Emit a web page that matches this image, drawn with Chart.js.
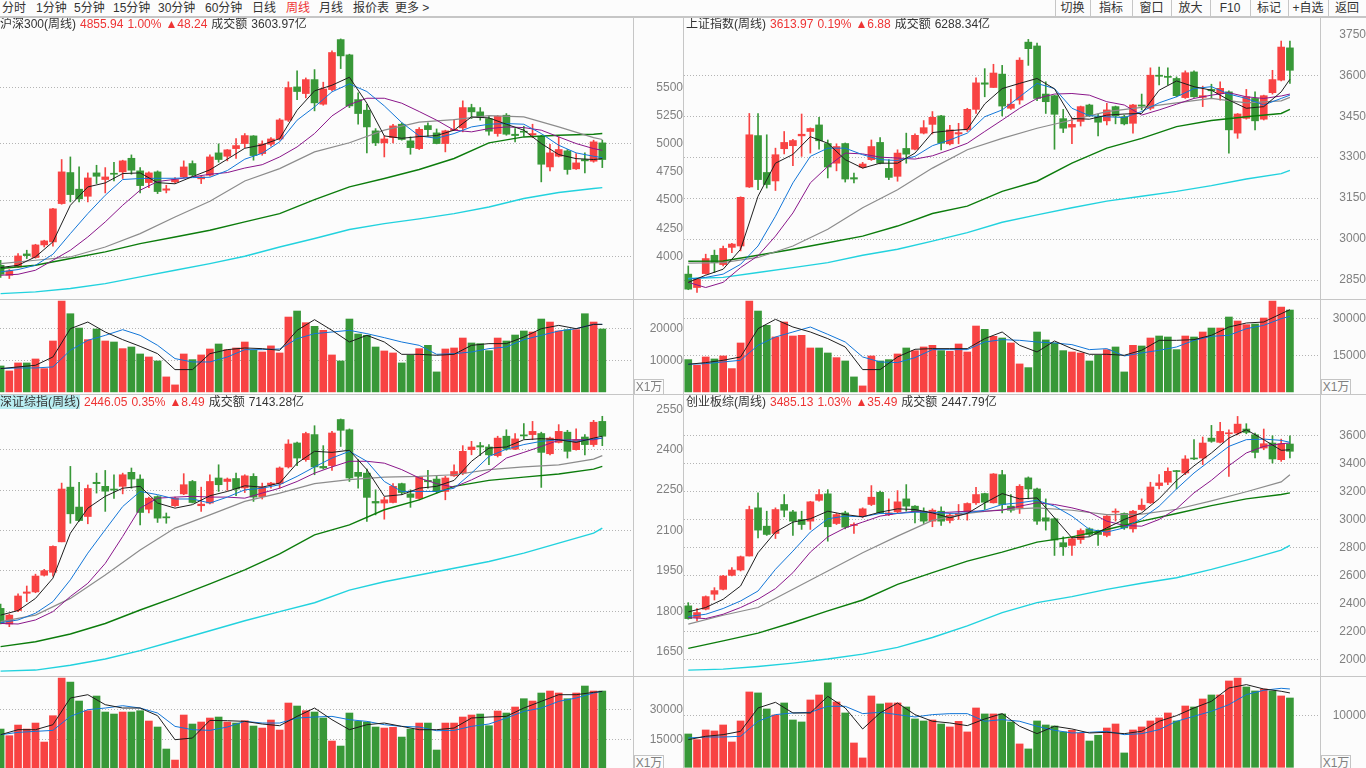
<!DOCTYPE html>
<html>
<head>
<meta charset="utf-8">
<title>周线</title>
<script src="https://cdn.jsdelivr.net/npm/chart.js@4.4.1/dist/chart.umd.min.js"></script>
<style>
  html, body { margin: 0; padding: 0; }
  body { width: 1366px; height: 768px; overflow: hidden; position: relative; background: #fcfcfc;
         font-family: "Liberation Sans", "Noto Sans CJK SC", sans-serif; font-size: 12px; color: #333; }
  canvas { position: absolute; display: block; }
  .ln { position: absolute; background: #c6c6c6; z-index: 3; }
  .tb { position: absolute; top: 0; height: 16px; line-height: 16px; white-space: nowrap; }
  .btn { position: absolute; top: 0; height: 16px; line-height: 16px; text-align: center; white-space: nowrap; }
  .hdr { position: absolute; height: 15px; line-height: 15px; white-space: nowrap; z-index: 2; color: #333; }
  .hdr span { margin-right: 4px; }
  .r { color: #ee3434; }
  .sel { background: #b9eef2; }
  .unit { position: absolute; width: 28px; height: 14px; line-height: 14px; border: 1px solid #c4c4c4;
          color: #808080; text-align: center; font-size: 12px; background: #fcfcfc; z-index: 2; }
</style>
</head>
<body>

<!-- 顶部工具栏 -->
<div class="tb" style="left:2px">分时</div>
<div class="tb" style="left:36px">1分钟</div>
<div class="tb" style="left:74px">5分钟</div>
<div class="tb" style="left:113px">15分钟</div>
<div class="tb" style="left:158px">30分钟</div>
<div class="tb" style="left:205px">60分钟</div>
<div class="tb" style="left:252px">日线</div>
<div class="tb r" style="left:286px">周线</div>
<div class="tb" style="left:319px">月线</div>
<div class="tb" style="left:353px">报价表</div>
<div class="tb" style="left:395px">更多 &gt;</div>

<div class="btn" style="left:1055px;width:35px">切换</div>
<div class="btn" style="left:1090px;width:42px">指标</div>
<div class="btn" style="left:1132px;width:39px">窗口</div>
<div class="btn" style="left:1171px;width:39px">放大</div>
<div class="btn" style="left:1210px;width:40px">F10</div>
<div class="btn" style="left:1250px;width:38px">标记</div>
<div class="btn" style="left:1288px;width:40px">+自选</div>
<div class="btn" style="left:1328px;width:38px">返回</div>

<canvas id="c-hs300-p" width="683" height="282" style="left:0;top:17px"></canvas>
<canvas id="c-hs300-v" width="683" height="93" style="left:0;top:300px"></canvas>
<canvas id="c-sh-p" width="682" height="282" style="left:684px;top:17px"></canvas>
<canvas id="c-sh-v" width="682" height="93" style="left:684px;top:300px"></canvas>
<canvas id="c-szzz-p" width="683" height="281" style="left:0;top:395px"></canvas>
<canvas id="c-szzz-v" width="683" height="91" style="left:0;top:677px"></canvas>
<canvas id="c-cybz-p" width="682" height="281" style="left:684px;top:395px"></canvas>
<canvas id="c-cybz-v" width="682" height="91" style="left:684px;top:677px"></canvas>

<!-- 分隔线 -->
<div class="ln" style="left:0;top:16px;width:1366px;height:2px"></div>
<div class="ln" style="left:633px;top:17px;width:1px;height:751px"></div>
<div class="ln" style="left:683px;top:17px;width:1px;height:751px"></div>
<div class="ln" style="left:1320px;top:17px;width:1px;height:751px"></div>
<div class="ln" style="left:0;top:299px;width:1366px;height:1px"></div>
<div class="ln" style="left:0;top:394px;width:1366px;height:1px"></div>
<div class="ln" style="left:0;top:676px;width:1366px;height:1px"></div>
<div class="ln" style="left:1055px;top:0;width:1px;height:16px"></div>
<div class="ln" style="left:1090px;top:0;width:1px;height:16px"></div>
<div class="ln" style="left:1132px;top:0;width:1px;height:16px"></div>
<div class="ln" style="left:1171px;top:0;width:1px;height:16px"></div>
<div class="ln" style="left:1210px;top:0;width:1px;height:16px"></div>
<div class="ln" style="left:1250px;top:0;width:1px;height:16px"></div>
<div class="ln" style="left:1288px;top:0;width:1px;height:16px"></div>
<div class="ln" style="left:1328px;top:0;width:1px;height:16px"></div>

<!-- 标题行 -->
<div class="hdr" style="left:0;top:17px"><span>沪深300(周线)</span><span class="r">4855.94</span><span class="r">1.00%</span><span class="r">▲48.24</span><span>成交额</span><span>3603.97亿</span></div>
<div class="hdr" style="left:686px;top:17px"><span>上证指数(周线)</span><span class="r">3613.97</span><span class="r">0.19%</span><span class="r">▲6.88</span><span>成交额</span><span>6288.34亿</span></div>
<div class="hdr" style="left:0;top:395px"><span class="sel">深证综指(周线)</span><span class="r">2446.05</span><span class="r">0.35%</span><span class="r">▲8.49</span><span>成交额</span><span>7143.28亿</span></div>
<div class="hdr" style="left:686px;top:395px"><span>创业板综(周线)</span><span class="r">3485.13</span><span class="r">1.03%</span><span class="r">▲35.49</span><span>成交额</span><span>2447.79亿</span></div>

<div class="unit" style="left:634px;top:379px">X1万</div>
<div class="unit" style="left:1321px;top:379px">X1万</div>
<div class="unit" style="left:634px;top:755px">X1万</div>
<div class="unit" style="left:1321px;top:755px">X1万</div>

<script>
// 均线取样位置（K线序号）
const fastIdx = [0, 2, 4, 6, 8, 10, 12, 14, 16, 18, 20, 22, 24, 26, 28, 30, 32, 34, 36, 38, 40, 42, 44, 46, 48, 50, 52, 54, 56, 58, 60, 62, 64, 66, 68, 69];
const slowIdx = [0, 4, 8, 12, 16, 20, 24, 28, 32, 36, 40, 44, 48, 52, 56, 60, 64, 68, 69];

// ---- 沪深300 ----
const hs300Open = [3920, 3831, 3905, 4021, 3989, 4101, 4128, 4469, 4745, 4597, 4534, 4742, 4683, 4739, 4751, 4872, 4760, 4656, 4751, 4588, 4662, 4706, 4825, 4689, 4721, 4920, 4890, 4958, 5003, 5071, 4914, 4997, 5044, 5211, 5507, 5448, 5572, 5353, 5483, 5928, 5792, 5394, 5300, 5116, 5009, 5056, 5175, 5027, 4958, 5163, 5098, 5003, 5119, 5142, 5323, 5285, 5225, 5092, 5255, 5086, 5113, 5080, 5068, 4795, 4890, 4938, 4778, 4861, 4846, 5009];
const hs300High = [3965, 3882, 4024, 4054, 4107, 4143, 4427, 4861, 4884, 4795, 4742, 4810, 4789, 4837, 4855, 4902, 4789, 4751, 4760, 4632, 4700, 4849, 4849, 4718, 4902, 5000, 4950, 5047, 5092, 5074, 5027, 5056, 5225, 5552, 5650, 5587, 5661, 5549, 5827, 5934, 5798, 5454, 5353, 5136, 5071, 5175, 5187, 5062, 5145, 5187, 5133, 5122, 5216, 5383, 5353, 5323, 5246, 5252, 5270, 5136, 5157, 5175, 5077, 4997, 5062, 4950, 4914, 4920, 5033, 5033];
const hs300Low = [3811, 3802, 3900, 3980, 3983, 4083, 4089, 4463, 4484, 4484, 4484, 4647, 4564, 4671, 4692, 4730, 4564, 4611, 4558, 4564, 4653, 4700, 4712, 4647, 4712, 4837, 4849, 4870, 4967, 4855, 4899, 4979, 5033, 5199, 5394, 5409, 5294, 5344, 5472, 5670, 5323, 5175, 4920, 4985, 4884, 5009, 5033, 4908, 4950, 5068, 5000, 4929, 5119, 5107, 5225, 5211, 5077, 5068, 5077, 5018, 5068, 5056, 4662, 4760, 4884, 4730, 4772, 4742, 4837, 4789];
const hs300Close = [3840, 3870, 4003, 4006, 4101, 4137, 4422, 4751, 4549, 4511, 4697, 4712, 4706, 4730, 4849, 4766, 4629, 4742, 4576, 4600, 4683, 4795, 4724, 4706, 4884, 4861, 4947, 4985, 5074, 4896, 5000, 5044, 5213, 5501, 5466, 5572, 5365, 5489, 5813, 5783, 5338, 5270, 5151, 5009, 5044, 5160, 5039, 4967, 5130, 5127, 5003, 5116, 5130, 5323, 5285, 5234, 5113, 5246, 5086, 5074, 5104, 5092, 4819, 4920, 4950, 4772, 4831, 4849, 5018, 4861];
const hs300Vol = [8210, 6630, 9160, 9160, 10420, 7370, 16110, 28740, 24740, 20210, 16530, 19900, 16110, 15790, 13690, 14210, 12000, 11050, 9790, 4740, 2210, 12000, 10210, 11690, 13580, 15160, 13370, 13900, 15790, 13160, 12630, 14560, 12320, 23690, 25590, 21900, 20740, 19480, 11690, 9790, 23060, 18320, 17900, 14210, 12950, 12320, 9160, 11580, 13690, 14740, 6320, 13580, 13900, 17050, 15480, 15270, 13050, 17050, 16110, 18000, 19270, 18950, 23060, 22110, 19270, 19690, 19690, 24740, 22110, 19900];
const hs300Ma5 = [3900, 3920, 3995, 4128, 4454, 4617, 4653, 4736, 4742, 4655, 4645, 4709, 4769, 4864, 4961, 4991, 5047, 5300, 5472, 5522, 5593, 5362, 5071, 5050, 5065, 5074, 5122, 5240, 5231, 5175, 5122, 5003, 4905, 4869, 4861, 4869];
const hs300Ma10 = [3861, 3882, 3920, 4018, 4202, 4380, 4543, 4683, 4692, 4694, 4694, 4700, 4703, 4763, 4864, 4917, 5018, 5211, 5329, 5463, 5534, 5466, 5338, 5190, 5071, 5050, 5092, 5151, 5175, 5181, 5175, 5092, 4988, 4920, 4890, 4878];
const hs300Ma20 = [3831, 3840, 3876, 3965, 4054, 4172, 4306, 4454, 4588, 4665, 4685, 4706, 4730, 4745, 4785, 4815, 4884, 4973, 5092, 5249, 5350, 5406, 5406, 5362, 5288, 5211, 5122, 5107, 5136, 5151, 5145, 5122, 5062, 5003, 4958, 4943];
const hs300Ma30 = [3935, 3965, 3994, 4083, 4202, 4350, 4490, 4670, 4780, 4929, 5010, 5122, 5193, 5216, 5252, 5240, 5151, 5056, 5039];
const hs300Ma60 = [3891, 3920, 3980, 4039, 4113, 4172, 4232, 4306, 4380, 4505, 4617, 4692, 4772, 4870, 5009, 5062, 5077, 5086, 5092];
const hs300Ma120 = [3668, 3683, 3713, 3757, 3817, 3876, 3935, 4000, 4083, 4158, 4238, 4291, 4333, 4380, 4439, 4514, 4567, 4603, 4611];
const hs300VolMa5 = [7370, 7900, 8420, 11050, 20000, 22110, 18950, 16530, 14420, 12100, 7050, 7050, 12100, 13370, 13900, 13690, 13160, 19480, 22850, 19480, 15790, 17900, 15790, 11890, 11890, 11580, 11890, 14740, 15270, 15270, 17370, 20000, 21050, 20000, 21370, 21370];
const hs300VolMa10 = [7370, 7580, 7580, 7900, 13160, 16320, 17900, 19690, 17900, 14740, 10530, 9470, 9470, 11050, 13370, 13370, 13580, 16840, 18430, 18950, 19480, 18430, 17160, 15790, 14740, 11890, 12100, 12630, 13690, 14210, 16530, 17900, 19270, 20000, 21370, 21370];
const hs300PriceTicks = [5500, 5250, 5000, 4750, 4500, 4250, 4000];
const hs300PriceGrid = [5500, 5000, 4500, 4000];
const hs300VolTicks = [20000, 10000];

// ---- 上证指数 ----
const shOpen = [2872, 2823, 2874, 2941, 2907, 2970, 2975, 3191, 3379, 3244, 3213, 3331, 3342, 3378, 3394, 3418, 3350, 3278, 3350, 3225, 3263, 3291, 3354, 3259, 3230, 3332, 3329, 3388, 3420, 3451, 3349, 3385, 3400, 3475, 3572, 3555, 3604, 3479, 3509, 3721, 3707, 3531, 3525, 3441, 3410, 3431, 3491, 3448, 3433, 3485, 3448, 3424, 3491, 3479, 3600, 3596, 3588, 3518, 3612, 3519, 3548, 3533, 3539, 3388, 3442, 3515, 3439, 3536, 3582, 3700];
const shHigh = [2902, 2856, 2945, 2960, 2975, 2985, 3155, 3460, 3460, 3382, 3333, 3394, 3365, 3458, 3407, 3446, 3363, 3349, 3352, 3242, 3281, 3363, 3372, 3291, 3327, 3388, 3385, 3434, 3467, 3453, 3417, 3424, 3479, 3590, 3624, 3640, 3636, 3548, 3664, 3731, 3718, 3576, 3527, 3475, 3442, 3487, 3494, 3458, 3497, 3487, 3454, 3493, 3531, 3627, 3630, 3627, 3594, 3616, 3616, 3560, 3567, 3576, 3543, 3460, 3548, 3539, 3527, 3618, 3725, 3725];
const shLow = [2815, 2805, 2872, 2878, 2902, 2951, 2957, 3189, 3181, 3187, 3178, 3312, 3269, 3303, 3315, 3329, 3224, 3250, 3209, 3206, 3260, 3288, 3275, 3218, 3212, 3278, 3327, 3385, 3385, 3327, 3345, 3349, 3394, 3460, 3521, 3555, 3451, 3475, 3494, 3636, 3507, 3460, 3329, 3390, 3349, 3414, 3448, 3378, 3418, 3422, 3418, 3388, 3473, 3473, 3564, 3564, 3521, 3515, 3519, 3485, 3515, 3509, 3315, 3369, 3439, 3400, 3436, 3531, 3579, 3570];
const shClose = [2817, 2854, 2929, 2914, 2966, 2982, 3153, 3382, 3218, 3200, 3309, 3354, 3361, 3384, 3405, 3360, 3264, 3339, 3220, 3220, 3275, 3339, 3278, 3226, 3315, 3311, 3380, 3408, 3446, 3351, 3400, 3390, 3475, 3572, 3567, 3608, 3487, 3494, 3655, 3697, 3515, 3503, 3457, 3406, 3420, 3485, 3451, 3428, 3473, 3451, 3422, 3491, 3487, 3600, 3596, 3592, 3525, 3609, 3521, 3525, 3543, 3552, 3400, 3458, 3521, 3433, 3525, 3584, 3703, 3618];
const shVol = [13230, 10910, 14320, 13500, 14730, 9550, 20050, 37240, 33140, 27280, 22500, 28640, 22910, 23190, 18000, 18000, 15950, 14040, 12680, 6140, 2450, 14730, 12680, 13230, 15550, 18000, 16910, 18410, 19090, 16910, 16640, 19640, 16360, 27000, 25640, 22780, 22090, 20050, 11460, 9950, 24550, 21280, 20050, 16910, 16360, 15950, 12680, 15000, 17320, 18410, 8180, 19090, 18820, 22090, 22910, 22500, 17320, 22910, 22500, 24550, 26180, 26180, 30690, 29050, 27550, 27820, 30280, 37240, 34780, 33550];
const shMa5 = [2842, 2868, 2890, 2963, 3157, 3278, 3310, 3375, 3351, 3291, 3260, 3278, 3278, 3315, 3390, 3397, 3402, 3495, 3551, 3570, 3588, 3550, 3442, 3439, 3454, 3458, 3460, 3545, 3579, 3558, 3545, 3509, 3479, 3485, 3539, 3585];
const shMa10 = [2854, 2860, 2872, 2908, 2975, 3084, 3206, 3303, 3333, 3333, 3309, 3291, 3288, 3303, 3342, 3363, 3388, 3448, 3473, 3521, 3570, 3551, 3479, 3452, 3448, 3445, 3467, 3499, 3521, 3551, 3558, 3531, 3515, 3491, 3515, 3527];
const shMa20 = [2842, 2823, 2842, 2896, 2939, 3011, 3096, 3206, 3266, 3315, 3312, 3300, 3297, 3293, 3305, 3327, 3351, 3394, 3436, 3479, 3515, 3531, 3533, 3527, 3503, 3491, 3454, 3473, 3494, 3515, 3527, 3536, 3521, 3515, 3524, 3531];
const shMa30 = [2912, 2914, 2933, 2975, 3036, 3115, 3181, 3260, 3327, 3369, 3406, 3436, 3467, 3482, 3499, 3515, 3499, 3506, 3519];
const shMa60 = [2919, 2920, 2941, 2963, 2987, 3011, 3048, 3094, 3121, 3175, 3212, 3278, 3333, 3369, 3412, 3434, 3448, 3460, 3475];
const shMa120 = [2856, 2860, 2878, 2896, 2914, 2941, 2963, 2993, 3024, 3062, 3089, 3115, 3139, 3157, 3175, 3196, 3220, 3240, 3252];
const shVolMa5 = [11320, 12000, 12960, 14320, 25910, 29730, 26590, 24550, 21820, 18410, 9140, 9140, 14320, 17460, 17730, 17730, 17730, 21820, 24550, 19090, 16360, 20870, 17730, 15410, 15410, 15000, 17050, 21140, 21140, 21410, 23190, 26590, 28230, 28640, 32050, 33690];
const shVolMa10 = [11320, 11590, 12270, 12960, 19090, 22500, 24550, 26590, 23590, 20460, 14320, 12270, 12000, 14040, 17320, 17320, 17320, 20460, 21410, 21140, 20460, 20050, 19370, 17320, 17730, 14730, 15950, 17050, 18410, 21140, 22780, 23190, 25910, 27280, 30010, 30960];
const shPriceTicks = [3750, 3600, 3450, 3300, 3150, 3000, 2850];
const shPriceGrid = [3600, 3450, 3300, 3150, 3000, 2850];
const shVolTicks = [30000, 15000];

// ---- 深证综指 ----
const szzzOpen = [1811, 1753, 1803, 1867, 1872, 1934, 1945, 2058, 2261, 2187, 2152, 2279, 2264, 2254, 2264, 2316, 2291, 2179, 2226, 2151, 2192, 2236, 2282, 2192, 2202, 2295, 2282, 2293, 2258, 2301, 2226, 2270, 2274, 2336, 2425, 2363, 2456, 2338, 2341, 2512, 2474, 2316, 2313, 2208, 2202, 2204, 2274, 2236, 2219, 2286, 2291, 2245, 2303, 2313, 2400, 2415, 2410, 2378, 2450, 2402, 2455, 2456, 2460, 2385, 2427, 2465, 2400, 2447, 2419, 2505];
const szzzHigh = [1827, 1790, 1865, 1894, 1938, 1956, 2043, 2276, 2338, 2279, 2269, 2313, 2323, 2307, 2313, 2332, 2307, 2224, 2229, 2165, 2224, 2311, 2286, 2261, 2307, 2344, 2295, 2313, 2307, 2311, 2276, 2279, 2336, 2437, 2428, 2465, 2489, 2415, 2468, 2514, 2477, 2363, 2328, 2251, 2224, 2274, 2276, 2251, 2301, 2323, 2301, 2301, 2344, 2415, 2431, 2427, 2419, 2450, 2474, 2460, 2497, 2505, 2465, 2447, 2493, 2472, 2477, 2456, 2509, 2524];
const szzzLow = [1753, 1743, 1799, 1836, 1869, 1931, 1931, 2058, 2127, 2134, 2125, 2239, 2171, 2219, 2236, 2257, 2121, 2165, 2130, 2127, 2189, 2233, 2202, 2171, 2199, 2245, 2249, 2229, 2241, 2208, 2217, 2257, 2257, 2332, 2341, 2357, 2307, 2328, 2323, 2412, 2282, 2257, 2134, 2158, 2142, 2202, 2233, 2186, 2214, 2257, 2239, 2214, 2301, 2307, 2381, 2378, 2344, 2373, 2398, 2400, 2440, 2437, 2260, 2381, 2425, 2369, 2398, 2381, 2412, 2415];
const szzzClose = [1755, 1786, 1857, 1872, 1931, 1951, 2041, 2254, 2162, 2137, 2256, 2274, 2246, 2250, 2307, 2291, 2167, 2220, 2146, 2147, 2220, 2270, 2204, 2198, 2282, 2270, 2291, 2254, 2303, 2224, 2261, 2276, 2332, 2421, 2369, 2460, 2336, 2332, 2462, 2472, 2295, 2301, 2223, 2202, 2214, 2264, 2241, 2223, 2298, 2281, 2245, 2295, 2319, 2394, 2410, 2410, 2381, 2443, 2402, 2440, 2451, 2468, 2390, 2443, 2468, 2394, 2437, 2419, 2502, 2450];
const szzzVol = [20330, 17000, 22330, 20330, 23330, 13830, 27000, 45840, 43840, 34340, 29500, 36840, 28840, 27840, 28840, 28840, 29500, 24340, 21340, 10340, 4830, 27340, 22840, 23840, 25840, 26340, 23840, 23340, 24500, 21840, 20830, 24840, 19830, 33340, 31840, 29500, 28840, 25840, 14330, 11830, 28340, 24170, 23840, 21340, 20830, 21170, 16330, 20330, 23330, 23330, 9840, 23330, 23330, 26340, 27340, 27840, 22000, 29340, 28340, 31340, 35500, 34340, 38340, 39340, 38340, 35500, 38340, 41840, 39340, 39340];
const szzzMa5 = [1786, 1803, 1848, 1923, 2090, 2183, 2227, 2257, 2264, 2202, 2183, 2196, 2229, 2245, 2266, 2261, 2276, 2350, 2394, 2390, 2398, 2326, 2227, 2233, 2257, 2264, 2286, 2357, 2406, 2410, 2437, 2441, 2437, 2427, 2443, 2450];
const szzzMa10 = [1758, 1768, 1793, 1836, 1917, 2016, 2103, 2189, 2245, 2233, 2217, 2217, 2202, 2224, 2251, 2257, 2270, 2301, 2336, 2369, 2394, 2357, 2282, 2245, 2245, 2245, 2257, 2313, 2375, 2402, 2419, 2431, 2437, 2431, 2440, 2443];
const szzzMa20 = [1755, 1753, 1768, 1799, 1855, 1904, 1978, 2078, 2183, 2220, 2224, 2227, 2224, 2224, 2220, 2239, 2257, 2282, 2313, 2336, 2357, 2357, 2350, 2326, 2295, 2274, 2261, 2288, 2319, 2369, 2390, 2412, 2435, 2437, 2437, 2443];
const szzzMa30 = [1762, 1786, 1848, 1935, 2028, 2109, 2158, 2208, 2239, 2274, 2289, 2298, 2301, 2307, 2326, 2336, 2344, 2365, 2378];
const szzzMa60 = [1669, 1687, 1716, 1755, 1805, 1852, 1902, 1954, 2013, 2084, 2121, 2177, 2214, 2264, 2286, 2298, 2310, 2328, 2338];
const szzzMa120 = [1578, 1582, 1600, 1623, 1654, 1691, 1728, 1765, 1799, 1832, 1879, 1910, 1935, 1960, 1985, 2016, 2053, 2090, 2109];
const szzzVolMa5 = [17500, 20000, 20000, 22500, 35840, 37500, 32500, 30840, 30840, 27000, 15000, 15830, 24670, 24500, 24170, 22840, 22000, 26670, 30840, 25000, 20000, 22500, 23330, 21670, 20000, 20000, 20830, 25840, 26340, 26670, 30840, 34170, 37500, 37500, 38670, 39170];
const szzzVolMa10 = [17500, 18670, 19170, 19670, 26670, 30000, 30840, 32000, 30840, 28340, 21670, 20000, 19670, 21340, 24170, 23330, 23330, 25840, 26340, 26670, 25000, 24170, 22500, 21670, 21340, 19500, 19670, 21670, 22840, 25840, 29170, 30840, 34170, 35840, 38340, 39170];
const szzzPriceTicks = [2550, 2400, 2250, 2100, 1950, 1800, 1650];
const szzzPriceGrid = [2400, 2250, 2100, 1950, 1800, 1650];
const szzzVolTicks = [30000, 15000];

// ---- 创业板综 ----
const cybzOpen = [2385, 2302, 2361, 2468, 2503, 2603, 2641, 2741, 3085, 2954, 2902, 3109, 3056, 3002, 2990, 3139, 3185, 2973, 3049, 2959, 3026, 3109, 3196, 3037, 3056, 3149, 3097, 3061, 2990, 3061, 2995, 3035, 3056, 3121, 3187, 3121, 3322, 3097, 3085, 3299, 3220, 3014, 3007, 2836, 2817, 2859, 2935, 2912, 2888, 3054, 3045, 2935, 3073, 3121, 3244, 3268, 3351, 3334, 3441, 3441, 3583, 3553, 3614, 3619, 3648, 3607, 3512, 3548, 3429, 3541];
const cybzHigh = [2408, 2366, 2456, 2515, 2603, 2658, 2741, 3097, 3192, 3061, 3085, 3180, 3068, 3061, 3132, 3215, 3215, 3045, 3061, 2978, 3085, 3244, 3204, 3149, 3208, 3251, 3101, 3085, 3078, 3092, 3045, 3109, 3121, 3232, 3190, 3330, 3353, 3180, 3251, 3306, 3227, 3149, 3014, 2878, 2878, 2935, 2942, 2926, 3030, 3078, 3049, 3068, 3149, 3268, 3322, 3370, 3353, 3458, 3572, 3591, 3674, 3695, 3643, 3738, 3686, 3619, 3648, 3600, 3576, 3600];
const cybzLow = [2290, 2278, 2356, 2427, 2498, 2598, 2634, 2741, 2871, 2888, 2866, 3021, 2888, 2931, 2931, 3132, 2847, 2966, 2935, 2902, 3014, 3101, 3045, 3030, 3049, 3061, 2978, 2973, 2950, 2959, 2978, 3002, 2997, 3109, 3073, 3119, 3049, 3054, 3045, 3149, 2966, 2926, 2745, 2745, 2745, 2831, 2883, 2817, 2878, 2990, 2931, 2912, 3068, 3116, 3220, 3251, 3220, 3322, 3429, 3394, 3553, 3548, 3310, 3607, 3614, 3441, 3500, 3405, 3417, 3441];
const cybzClose = [2294, 2337, 2451, 2494, 2598, 2641, 2736, 3073, 2926, 2895, 3073, 3068, 2990, 2966, 3128, 3180, 2950, 3037, 2947, 2966, 3078, 3161, 3049, 3049, 3128, 3097, 3056, 2990, 3068, 2990, 3033, 3045, 3116, 3180, 3125, 3327, 3109, 3068, 3239, 3220, 2990, 2990, 2855, 2807, 2864, 2923, 2895, 2895, 3026, 3061, 2942, 3061, 3104, 3234, 3263, 3346, 3344, 3434, 3434, 3548, 3560, 3631, 3621, 3683, 3624, 3481, 3543, 3434, 3543, 3489];
const cybzVol = [6410, 5320, 7180, 6990, 8140, 4870, 8910, 14490, 14300, 11220, 10060, 12370, 9100, 8720, 12950, 13910, 16220, 12560, 10450, 4680, 1800, 13720, 12180, 12370, 12370, 11600, 9300, 8910, 9100, 8330, 7760, 8840, 6800, 11410, 10260, 10260, 10260, 8720, 4490, 3530, 8910, 8140, 7950, 6800, 7120, 6540, 5060, 6160, 7560, 8330, 2760, 7180, 7760, 8910, 9490, 10450, 8910, 11790, 11600, 13140, 13910, 13910, 16600, 17180, 15450, 14680, 15060, 14680, 13720, 13330];
const cybzMa5 = [2342, 2373, 2432, 2527, 2764, 2912, 2983, 3007, 3061, 3037, 3021, 3054, 3078, 3073, 3049, 3014, 3045, 3120, 3187, 3149, 3156, 3014, 2871, 2878, 2942, 3002, 3049, 3150, 3280, 3385, 3477, 3583, 3643, 3572, 3496, 3500];
const cybzMa10 = [2309, 2325, 2366, 2420, 2491, 2646, 2776, 2912, 3007, 3026, 3021, 3045, 3045, 3054, 3054, 3045, 3049, 3068, 3109, 3121, 3139, 3097, 3026, 2931, 2912, 2942, 3007, 3097, 3220, 3334, 3429, 3524, 3572, 3576, 3567, 3553];
const cybzMa20 = [2301, 2294, 2325, 2373, 2432, 2508, 2622, 2769, 2878, 2942, 2983, 3026, 3045, 3061, 3049, 3054, 3061, 3061, 3068, 3097, 3121, 3109, 3085, 3054, 2990, 2959, 2954, 3002, 3078, 3192, 3282, 3386, 3477, 3524, 3543, 3548];
const cybzMa30 = [2254, 2318, 2373, 2503, 2634, 2764, 2883, 2995, 3045, 3073, 3085, 3068, 3037, 3040, 3075, 3135, 3200, 3270, 3322];
const cybzMa60 = [2081, 2135, 2190, 2266, 2349, 2427, 2539, 2622, 2705, 2769, 2840, 2878, 2930, 2990, 3045, 3101, 3149, 3180, 3192];
const cybzMa120 = [1926, 1933, 1952, 1976, 2005, 2040, 2088, 2159, 2242, 2337, 2408, 2451, 2503, 2546, 2586, 2646, 2712, 2783, 2817];
const cybzVolMa5 = [5320, 5960, 6280, 6920, 11410, 12500, 10450, 10450, 13650, 11410, 7370, 10450, 12370, 10130, 8850, 8530, 8010, 9300, 10320, 7890, 6470, 7890, 7370, 6600, 6730, 6470, 6920, 8850, 9940, 11410, 12690, 15250, 15900, 15060, 14620, 14300];
const cybzVolMa10 = [5640, 5830, 5830, 5960, 8850, 10130, 10450, 10580, 11730, 11730, 10320, 10580, 10130, 9680, 10130, 10320, 10320, 8850, 9170, 8850, 7890, 7120, 6600, 6730, 6920, 6280, 6470, 7240, 8850, 9810, 10770, 12050, 13970, 14810, 15190, 15060];
const cybzPriceTicks = [3600, 3400, 3200, 3000, 2800, 2600, 2400, 2200, 2000];
const cybzPriceGrid = [3600, 3400, 3200, 3000, 2800, 2600, 2400, 2200, 2000];
const cybzVolTicks = [10000];

// ---- 样式 ----
const RED = '#f84343';
const GREEN = '#389838';
const MA_COLOR = ['#1e1e1e', '#1276d8', '#8a168a', '#8c8c8c', '#0c7c0c', '#22d2de'];
const MA_WIDTH = [1, 1, 1, 1.2, 1.4, 1.4];
const AXIS_TEXT = '#808080';
const GRID_COLOR = '#b4b4b4';

function xScale(min, max) {
  return { type: 'linear', min: min, max: max, display: false, offset: false };
}

// 右侧纵轴：固定刻度，只有部分刻度画点线
function yScale(min, max, ticks, grid, pad, width) {
  return {
    position: 'right',
    min: min,
    max: max,
    afterBuildTicks: function (s) { s.ticks = ticks.map(function (v) { return { value: v }; }); },
    afterFit: function (s) { s.width = width; s.paddingTop = 0; s.paddingBottom = 0; },
    grid: {
      drawTicks: false,
      lineWidth: 1,
      color: function (c) { return c.tick && grid.indexOf(c.tick.value) >= 0 ? GRID_COLOR : 'rgba(0,0,0,0)'; }
    },
    border: { display: false, dash: [1, 2] },
    ticks: {
      autoSkip: false,
      crossAlign: 'far',
      padding: pad,
      color: AXIS_TEXT,
      font: { family: 'Liberation Sans', size: 12 },
      callback: function (v) { return String(v); }
    }
  };
}

function options(xs, ys) {
  return {
    responsive: false,
    animation: false,
    events: [],
    layout: { padding: 0 },
    plugins: { legend: { display: false }, tooltip: { enabled: false } },
    scales: { x: xs, y: ys }
  };
}

function maLine(idx, vals, k) {
  return {
    type: 'line',
    data: idx.map(function (x, j) { return { x: x, y: vals[j] }; }),
    borderColor: MA_COLOR[k],
    borderWidth: MA_WIDTH[k],
    pointRadius: 0,
    tension: 0,
    fill: false,
    order: k
  };
}

function drawPanel(p) {
  const idx = p.open.map(function (v, i) { return i; });
  const colors = idx.map(function (i) { return p.close[i] >= p.open[i] ? RED : GREEN; });

  new Chart(document.getElementById(p.id + '-p'), {
    type: 'bar',
    data: {
      datasets: [
        maLine(fastIdx, p.ma[0], 0),
        maLine(fastIdx, p.ma[1], 1),
        maLine(fastIdx, p.ma[2], 2),
        maLine(slowIdx, p.ma[3], 3),
        maLine(slowIdx, p.ma[4], 4),
        maLine(slowIdx, p.ma[5], 5),
        {
          data: idx.map(function (i) { return { x: i, y: [p.open[i], p.close[i]] }; }),
          backgroundColor: colors, barThickness: 7, minBarLength: 1, grouped: false, order: 10
        },
        {
          data: idx.map(function (i) { return { x: i, y: [p.low[i], p.high[i]] }; }),
          backgroundColor: colors, barThickness: 1, grouped: false, order: 11
        }
      ]
    },
    options: options(xScale(p.xr[0], p.xr[1]), yScale(p.pr[0], p.pr[1], p.pTicks, p.pGrid, 18, p.axisW))
  });

  new Chart(document.getElementById(p.id + '-v'), {
    type: 'bar',
    data: {
      datasets: [
        maLine(fastIdx, p.volMa[0], 0),
        maLine(fastIdx, p.volMa[1], 1),
        {
          data: idx.map(function (i) { return { x: i, y: p.vol[i] }; }),
          backgroundColor: colors, barThickness: 7, grouped: false, order: 10
        }
      ]
    },
    options: options(xScale(p.xr[0], p.xr[1]), yScale(p.vr[0], p.vr[1], p.vTicks, p.vTicks, 12, p.axisW))
  });
}

drawPanel({
  id: 'c-hs300', axisW: 50, xr: [-0.07, 72.52], pr: [3620, 6129], vr: [-350, 29080],
  open: hs300Open, high: hs300High, low: hs300Low, close: hs300Close, vol: hs300Vol,
  ma: [hs300Ma5, hs300Ma10, hs300Ma20, hs300Ma30, hs300Ma60, hs300Ma120],
  volMa: [hs300VolMa5, hs300VolMa10],
  pTicks: hs300PriceTicks, pGrid: hs300PriceGrid, vTicks: hs300VolTicks
});

drawPanel({
  id: 'c-sh', axisW: 46, xr: [-0.49, 72.45], pr: [2781, 3813], vr: [-450, 37660],
  open: shOpen, high: shHigh, low: shLow, close: shClose, vol: shVol,
  ma: [shMa5, shMa10, shMa20, shMa30, shMa60, shMa120],
  volMa: [shVolMa5, shVolMa10],
  pTicks: shPriceTicks, pGrid: shPriceGrid, vTicks: shVolTicks
});

drawPanel({
  id: 'c-szzz', axisW: 50, xr: [-0.07, 72.52], pr: [1560, 2603], vr: [850, 46350],
  open: szzzOpen, high: szzzHigh, low: szzzLow, close: szzzClose, vol: szzzVol,
  ma: [szzzMa5, szzzMa10, szzzMa20, szzzMa30, szzzMa60, szzzMa120],
  volMa: [szzzVolMa5, szzzVolMa10],
  pTicks: szzzPriceTicks, pGrid: szzzPriceGrid, vTicks: szzzVolTicks
});

drawPanel({
  id: 'c-cybz', axisW: 46, xr: [-0.49, 72.45], pr: [1884, 3891], vr: [-135, 17365],
  open: cybzOpen, high: cybzHigh, low: cybzLow, close: cybzClose, vol: cybzVol,
  ma: [cybzMa5, cybzMa10, cybzMa20, cybzMa30, cybzMa60, cybzMa120],
  volMa: [cybzVolMa5, cybzVolMa10],
  pTicks: cybzPriceTicks, pGrid: cybzPriceGrid, vTicks: cybzVolTicks
});
</script>
</body>
</html>
